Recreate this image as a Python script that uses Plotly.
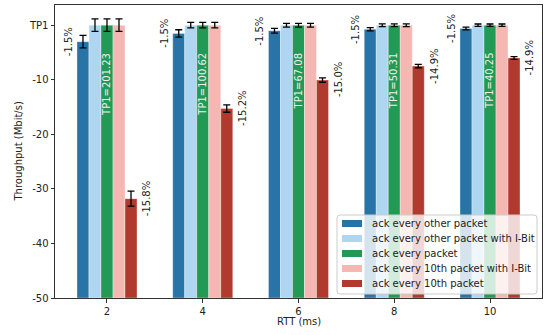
import plotly.graph_objects as go

rtt = ["2", "4", "6", "8", "10"]
tp1 = [201.23, 100.62, 67.08, 50.31, 40.25]

series_names = [
    "ack every other packet",
    "ack every other packet with I-Bit",
    "ack every packet",
    "ack every 10th packet with I-Bit",
    "ack every 10th packet",
]
series_colors = ["#2874A6", "#AED6F1", "#229954", "#F5B7B1", "#B03A2E"]

# throughput relative to TP1 (Mbit/s)
ack_other = [-3.02, -1.51, -1.01, -0.75, -0.60]
ack_other_ibit = [0.0, 0.0, 0.0, 0.0, 0.0]
ack_every = [0.0, 0.0, 0.0, 0.0, 0.0]
ack_10th_ibit = [0.0, 0.0, 0.0, 0.0, 0.0]
ack_10th = [-31.79, -15.29, -10.06, -7.50, -6.00]

err_other = [1.15, 0.67, 0.43, 0.30, 0.25]
err_other_ibit = [1.15, 0.50, 0.35, 0.25, 0.22]
err_every = [1.15, 0.50, 0.35, 0.25, 0.22]
err_10th_ibit = [1.15, 0.50, 0.35, 0.25, 0.22]
err_10th = [1.37, 0.67, 0.40, 0.30, 0.25]

pct_other = ["-1.5%", "-1.5%", "-1.5%", "-1.5%", "-1.5%"]
pct_10th = ["-15.8%", "-15.2%", "-15.0%", "-14.9%", "-14.9%"]

y_ticks = [0, -10, -20, -30, -40, -50]
y_tick_labels = ["TP1", "-10", "-20", "-30", "-40", "-50"]

BASE = -50
values = [ack_other, ack_other_ibit, ack_every, ack_10th_ibit, ack_10th]
errors = [err_other, err_other_ibit, err_every, err_10th_ibit, err_10th]

W, H = 549, 335
ML, MR, MT, MB = 55, 7, 5, 37
PW, PH = W - ML - MR, H - MT - MB


def px_x(px):
    return (px - ML) / PW


def px_y(py):
    return (H - MB - py) / PH


xs = list(range(len(rtt)))
bargap = 0.373
bw = (1 - bargap) / 5

fig = go.Figure()
for name, col, vals, errs in zip(series_names, series_colors, values, errors):
    fig.add_trace(go.Bar(
        x=xs, y=[v - BASE for v in vals], base=BASE, name=name,
        marker=dict(color=col, line=dict(color="rgba(255,255,255,0.35)", width=1)),
        error_y=dict(type="data", array=errs, color="black", thickness=1.3, width=3.5),
        showlegend=False,
    ))

ann = []
font = dict(family="DejaVu Sans", size=10, color="#222")
for i in xs:
    ann.append(dict(x=i - 2.5 * bw, y=ack_other[i], xref="x", yref="y", text=pct_other[i],
                    textangle=-90, showarrow=False, xanchor="right", yanchor="middle",
                    xshift=-1, font=font))
    ann.append(dict(x=i + 2.5 * bw, y=ack_10th[i], xref="x", yref="y", text=pct_10th[i],
                    textangle=-90, showarrow=False, xanchor="left", yanchor="middle",
                    xshift=2, font=font))
    ann.append(dict(x=i, y=-5, xref="x", yref="y", text=f"TP1={tp1[i]:.2f}",
                    textangle=-90, showarrow=False, xanchor="center", yanchor="top",
                    yshift=2, font=dict(family="DejaVu Sans", size=10, color="#f0f0f0")))

# axis titles
ann.append(dict(x=px_x(18), y=0.5, xref="paper", yref="paper", text="Throughput (Mbit/s)",
                textangle=-90, showarrow=False, xanchor="center", yanchor="middle", font=font))
ann.append(dict(x=0.5, y=px_y(322), xref="paper", yref="paper", text="RTT (ms)",
                showarrow=False, xanchor="center", yanchor="middle", font=font))

# legend box (drawn inside the plot, lower right)
shapes = []
lx0, lx1, ly0, ly1, r = 337, 537, 215, 294, 3
path = (f"M {px_x(lx0 + r)},{px_y(ly0)} L {px_x(lx1 - r)},{px_y(ly0)} "
        f"Q {px_x(lx1)},{px_y(ly0)} {px_x(lx1)},{px_y(ly0 + r)} "
        f"L {px_x(lx1)},{px_y(ly1 - r)} Q {px_x(lx1)},{px_y(ly1)} {px_x(lx1 - r)},{px_y(ly1)} "
        f"L {px_x(lx0 + r)},{px_y(ly1)} Q {px_x(lx0)},{px_y(ly1)} {px_x(lx0)},{px_y(ly1 - r)} "
        f"L {px_x(lx0)},{px_y(ly0 + r)} Q {px_x(lx0)},{px_y(ly0)} {px_x(lx0 + r)},{px_y(ly0)} Z")
shapes.append(dict(type="path", xref="paper", yref="paper", path=path,
                   fillcolor="rgba(255,255,255,0.8)", line=dict(color="#cccccc", width=1),
                   layer="above"))
for k, (name, col) in enumerate(zip(series_names, series_colors)):
    cy = 223.5 + 15 * k
    shapes.append(dict(type="rect", xref="paper", yref="paper",
                       x0=px_x(342), x1=px_x(362), y0=px_y(cy + 3.5), y1=px_y(cy - 3.5),
                       fillcolor=col, line=dict(width=0), layer="above"))
    ann.append(dict(x=px_x(370), y=px_y(cy), xref="paper", yref="paper", text=name,
                    showarrow=False, xanchor="left", yanchor="middle", font=font))

fig.update_layout(
    width=W, height=H,
    margin=dict(l=ML, r=MR, t=MT, b=MB),
    barmode="group", bargap=bargap, bargroupgap=0,
    plot_bgcolor="white", paper_bgcolor="white",
    font=dict(family="DejaVu Sans", size=10, color="#222"),
    showlegend=False,
    hovermode=False,
    annotations=ann,
    shapes=shapes,
    xaxis=dict(tickvals=xs, ticktext=rtt, range=[-0.543, 4.543], automargin=False,
               showline=True, linecolor="#333", mirror=True, ticks="outside",
               ticklen=3.5, tickcolor="#333", showgrid=False, zeroline=False),
    yaxis=dict(tickvals=y_ticks, ticktext=y_tick_labels, range=[-50, 3.7], automargin=False,
               showline=True, linecolor="#333", mirror=True, ticks="outside",
               ticklen=3.5, tickcolor="#333", showgrid=False, zeroline=False),
)

fig.write_html("out.html", config={"displayModeBar": False},
               post_script="document.body.style.margin='0';document.body.style.overflow='hidden';")
